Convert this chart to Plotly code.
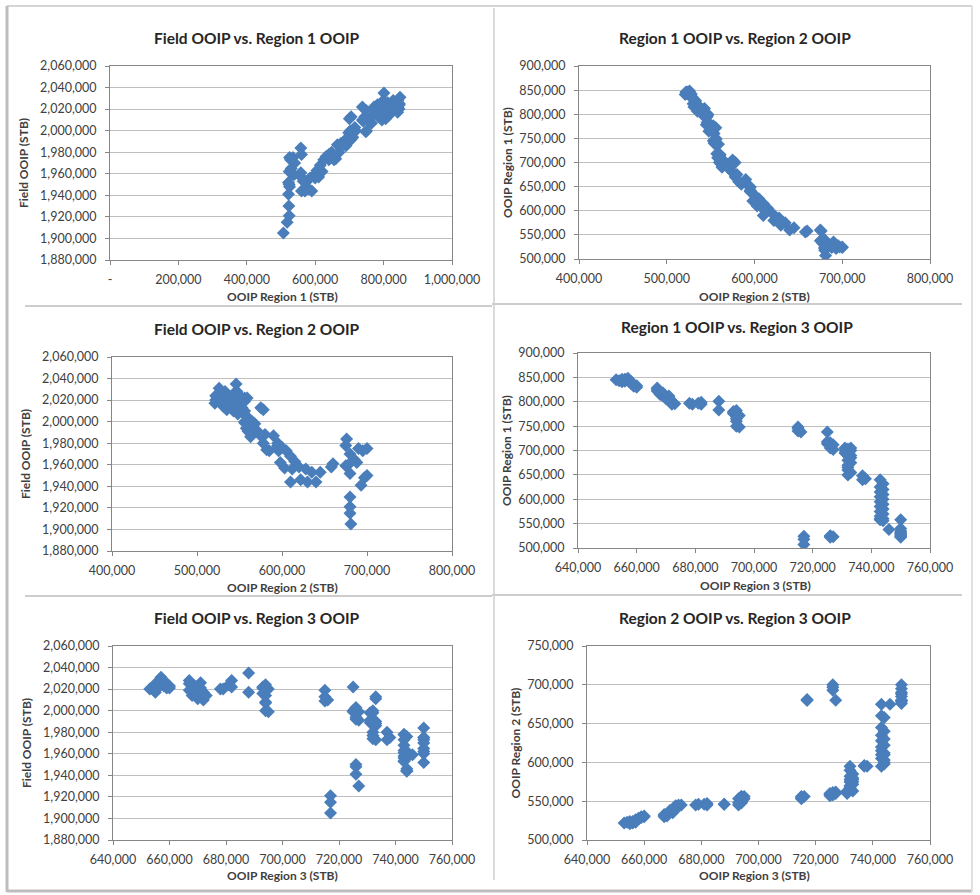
import plotly.graph_objects as go

# OOIP samples, thousand STB (same sample order in all lists)
REGION3 = [653,654,655,655,656,656,657,657,658,658,659,659,660,660,
           667,667,667,668,668,669,669,670,670,671,671,671,672,672,673,
           678,679,681,682,682,
           688,688,
           693,693,693,694,694,694,694,694,694,695,695,
           715,715,716,715,
           717,717,717,
           725,725,725,726,726,726,727,727,
           726,726,727,726,
           731,731,731,732,732,733,733,732,733,733,732,733,732,732,732,733,732,
           737,738,737,
           743,744,743,744,743,744,743,744,743,744,743,744,743,744,743,744,743,744,743,
           746,
           750,750,750,750,750,750,750,750,750]
REGION1 = [845,843,846,841,842,846,848,844,838,842,835,832,830,833,
           826,828,822,820,815,818,812,810,806,808,812,803,800,795,796,
           797,795,797,799,795,
           801,783,
           780,776,778,772,770,765,760,750,782,748,772,
           748,745,738,740,
           524,518,507,
           738,718,714,710,716,705,712,702,
           524,522,523,525,
           705,700,695,703,698,705,700,690,690,685,680,675,670,665,660,655,650,
           648,642,640,
           640,632,625,620,615,610,605,600,595,590,585,580,575,570,565,560,558,556,560,
           538,
           558,540,535,530,525,522,528,532,524]
REGION2 = [522,523,524,521,524,522,526,523,527,528,529,530,531,530,
           532,533,530,533,531,536,538,540,535,542,543,544,545,543,545,
           545,546,546,547,545,
           546,546,
           548,553,545,556,550,548,554,556,548,556,553,
           556,553,556,554,
           680,680,681,
           559,557,560,558,561,561,560,562,
           700,693,680,697,
           562,560,563,565,568,575,578,570,563,572,575,580,578,590,582,585,595,
           595,595,596,
           595,600,605,598,610,603,615,612,620,610,628,622,635,630,645,640,660,658,675,
           675,
           676,680,690,685,700,680,695,678,688]
FIELD = [2020,2020,2025,2017,2022,2024,2031,2024,2023,2028,2023,2021,2021,2023,
         2025,2028,2019,2021,2014,2023,2019,2020,2011,2021,2026,2018,2017,2010,2014,
         2020,2020,2024,2028,2022,
         2035,2017,
         2021,2022,2016,2022,2014,2007,2008,2000,2024,1999,2020,
         2019,2013,2010,2009,
         1921,1915,1905,
         2022,2000,1999,1994,2003,1992,1999,1991,
         1950,1941,1930,1948,
         1998,1991,1989,2000,1998,2013,2011,1992,1986,1990,1987,1988,1980,1987,1974,1973,1977,
         1980,1975,1973,
         1978,1976,1973,1962,1968,1957,1963,1956,1958,1944,1956,1946,1953,1944,1953,1944,1961,1958,1978,
         1959,
         1984,1970,1975,1965,1975,1952,1973,1960,1962]

K = 1000
r1 = [v * K for v in REGION1]
r2 = [v * K for v in REGION2]
r3 = [v * K for v in REGION3]
fld = [v * K for v in FIELD]

TITLES = ["Field OOIP vs. Region 1 OOIP", "Region 1 OOIP vs. Region 2 OOIP",
          "Field OOIP vs. Region 2 OOIP", "Region 1 OOIP vs. Region 3 OOIP",
          "Field OOIP vs. Region 3 OOIP", "Region 2 OOIP vs. Region 3 OOIP"]
XTITLES = ["OOIP Region 1 (STB)", "OOIP Region 2 (STB)", "OOIP Region 2 (STB)",
           "OOIP Region 3 (STB)", "OOIP Region 3 (STB)", "OOIP Region 3 (STB)"]
YTITLES = ["Field OOIP (STB)", "OOIP Region 1 (STB)", "Field OOIP (STB)",
           "OOIP Region 1 (STB)", "Field OOIP (STB)", "OOIP Region 2 (STB)"]

XS = [r1, r2, r2, r3, r3, r3]
YS = [fld, r1, fld, r1, fld, r2]

XRANGES = [(0, 1000000, 200000), (400000, 800000, 100000), (400000, 800000, 100000),
           (640000, 760000, 20000), (640000, 760000, 20000), (640000, 760000, 20000)]
YRANGES = [(1880000, 2060000, 20000), (500000, 900000, 50000), (1880000, 2060000, 20000),
           (500000, 900000, 50000), (1880000, 2060000, 20000), (500000, 750000, 50000)]

W, H = 980, 895
# plot-area pixel boxes: x0, x1, ytop, ybottom
BOX = [(110, 452, 66, 260), (579, 930, 66, 259),
       (112, 452, 357, 551), (578, 930, 353, 548),
       (113, 452, 646, 840), (587, 930, 646, 840)]
TITLE_POS = [(257, 38), (735, 38), (257, 329), (737, 327), (257, 618), (735, 618)]
XT_POS = [(282, 297), (754, 296), (282, 587), (755, 585), (282, 875), (754, 875)]
YT_STANDOFF = [8, 3, 8, 3, 8, 3]

FONT = "Lato, 'Open Sans', sans-serif"
BLUE = "#4A7EBB"
TXT = "#404040"

fig = go.Figure()
layout = dict(width=W, height=H, margin=dict(l=0, r=0, t=0, b=0), autosize=False,
              paper_bgcolor="white", plot_bgcolor="white", showlegend=False,
              font=dict(family=FONT, color=TXT))
annotations = []
shapes = []

def fmt(v):
    return f"{v:,.0f}"

for i in range(6):
    n = "" if i == 0 else str(i + 1)
    fig.add_trace(go.Scatter(x=XS[i], y=YS[i], mode="markers",
                             marker=dict(symbol="diamond", size=10, color=BLUE,
                                         line=dict(width=0)),
                             xaxis="x" + n, yaxis="y" + n, hoverinfo="x+y"))
    x0, x1, yt, yb = BOX[i]
    xa0, xa1, xd = XRANGES[i]
    ya0, ya1, yd = YRANGES[i]
    xvals = list(range(xa0, xa1 + 1, xd))
    xtext = ["-" if v == 0 else fmt(v) for v in xvals]
    yvals = list(range(ya0, ya1 + 1, yd))
    ax = dict(domain=[x0 / W, x1 / W], range=[xa0, xa1], tickvals=xvals, ticktext=xtext,
              showgrid=False, zeroline=False, showline=True, linecolor="#868686",
              linewidth=1, mirror=True, ticks="outside", ticklen=4, tickcolor="#868686",
              ticklabelstandoff=4,
              tickfont=dict(size=12.5, color=TXT, family=FONT),
              anchor="y" + n, fixedrange=True, automargin=False)
    ay = dict(domain=[1 - yb / H, 1 - yt / H], range=[ya0, ya1], tickvals=yvals,
              ticktext=[fmt(v) for v in yvals],
              showgrid=True, gridcolor="#BFBFBF", gridwidth=1, zeroline=False,
              showline=True, linecolor="#868686", linewidth=1, mirror=True,
              ticks="outside", ticklen=4, tickcolor="#868686", ticklabelstandoff=6,
              tickfont=dict(size=12.5, color=TXT, family=FONT),
              title=dict(text="<b>" + YTITLES[i] + "</b>", standoff=YT_STANDOFF[i],
                         font=dict(size=12, color=TXT, family=FONT)),
              anchor="x" + n, fixedrange=True, automargin=False)
    layout["xaxis" + n] = ax
    layout["yaxis" + n] = ay
    tx, ty = TITLE_POS[i]
    annotations.append(dict(text="<b>" + TITLES[i] + "</b>", x=tx / W, y=1 - ty / H,
                            xref="paper", yref="paper", showarrow=False,
                            xanchor="center", yanchor="middle",
                            font=dict(size=15.5, color="#262626", family=FONT)))
    px, py = XT_POS[i]
    annotations.append(dict(text="<b>" + XTITLES[i] + "</b>", x=px / W, y=1 - py / H,
                            xref="paper", yref="paper", showarrow=False,
                            xanchor="center", yanchor="middle",
                            font=dict(size=12, color=TXT, family=FONT)))

def px_rect(x0, y0, x1, y1, fill, layer="above"):
    return dict(type="rect", xref="paper", yref="paper", x0=x0 / W, x1=x1 / W,
                y0=1 - y1 / H, y1=1 - y0 / H, fillcolor=fill, layer=layer,
                line=dict(width=0, color=fill))

def px_line(x0, y0, x1, y1, color="#C8C8C8", width=1.5):
    return dict(type="line", xref="paper", yref="paper", x0=x0 / W, x1=x1 / W,
                y0=1 - y0 / H, y1=1 - y1 / H, line=dict(color=color, width=width),
                layer="above")

# clipping of chart images (as in the document snapshot)
shapes.append(px_rect(9, 8, 25, 880, "white"))
shapes.append(px_rect(0, 590, 490, 597, "white"))
shapes.append(px_rect(490, 588, 972, 596, "white"))
shapes.append(px_rect(0, 878, 980, 895, "white"))
# separators
shapes.append(px_line(25, 306, 492, 306, "#BDBDBD", 1.5))
shapes.append(px_line(492, 304, 962, 304, "#BDBDBD", 1.5))
shapes.append(px_line(25, 596, 492, 596, "#BDBDBD", 1.5))
shapes.append(px_line(492, 595, 962, 595, "#BDBDBD", 1.5))
shapes.append(px_line(494, 8, 494, 880, "#CFCFCF", 1.5))
# outer frame with shadow
shapes.append(px_line(7, 6, 972, 6, "#D4D4D4", 2))
shapes.append(px_line(7, 6, 7, 892, "#BDBDBD", 3))
shapes.append(px_line(7, 891, 972, 891, "#BDBDBD", 3))
shapes.append(px_line(972, 6, 972, 892, "#E0E0E0", 2))

layout["annotations"] = annotations
layout["shapes"] = shapes
fig.update_layout(**layout)
fig.write_html("out.html")
